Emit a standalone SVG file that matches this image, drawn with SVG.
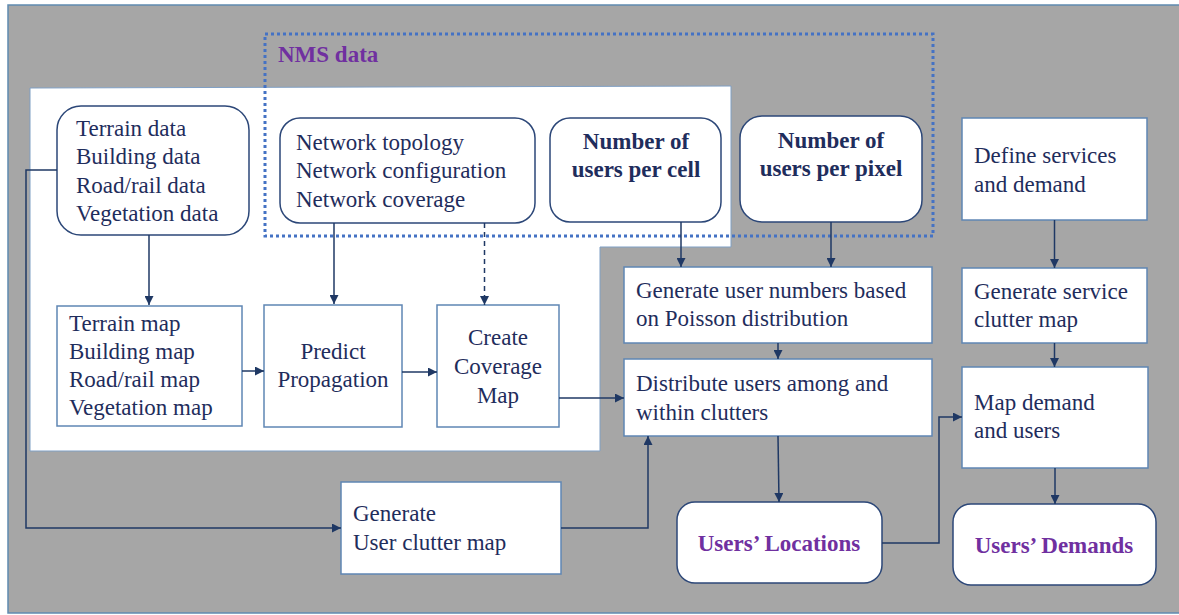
<svg xmlns="http://www.w3.org/2000/svg" width="1179" height="615" viewBox="0 0 1179 615">
<defs>
<marker id="ah" viewBox="0 0 10 10" refX="10" refY="5" markerWidth="9" markerHeight="9" markerUnits="userSpaceOnUse" orient="auto">
<path d="M0,0 L10,5 L0,10 z" fill="#1f3864"/>
</marker>
</defs>
<style>
text{font-size:23px;fill:#1f2d5c}
.b{font-weight:bold}
.p{fill:#7030a0;font-weight:bold}
.m{text-anchor:middle}
.rect{fill:#fff;stroke:#5f86b4;stroke-width:1.5}
.rnd{fill:#fff;stroke:#2c4778;stroke-width:1.5}
.c{fill:none;stroke:#1f3864;stroke-width:1.5}
.ca{fill:none;stroke:#1f3864;stroke-width:1.5;marker-end:url(#ah)}
</style>
<rect x="0" y="0" width="1179" height="615" fill="#ffffff"/>
<rect x="8" y="5" width="1180" height="608" fill="#a6a6a6" stroke="#5f8ab0" stroke-width="1.5"/>
<path d="M30,88 L731,86 L731,247 L600,247 L600,451 L30,451 Z" fill="#ffffff" stroke="#7f9fc4" stroke-width="1"/>
<rect id="nms" x="265" y="34" width="668" height="202" fill="none" stroke="#4472c4" stroke-width="3" stroke-dasharray="3 3"/>
<g font-family="'Liberation Serif', 'Times New Roman', Tinos, 'DejaVu Serif', serif">
<text x="278" y="62" class="p">NMS data</text>

<g id="terrain-data">
<rect x="57" y="106" width="192" height="129" rx="24" class="rnd"/>
<text x="76" y="136">Terrain  data</text>
<text x="76" y="164">Building  data</text>
<text x="76" y="193">Road/rail data</text>
<text x="76" y="221">Vegetation  data</text>
</g>
<g id="network">
<rect x="280" y="118" width="255" height="105" rx="20" class="rnd"/>
<text x="296" y="150">Network topology</text>
<text x="296" y="178">Network configuration</text>
<text x="296" y="207">Network coverage</text>
</g>
<g id="users-cell">
<rect x="550" y="118" width="171" height="104" rx="20" class="rnd"/>
<text x="636" y="149" class="b m">Number of</text>
<text x="636" y="177" class="b m">users per cell</text>
</g>
<g id="users-pixel">
<rect x="740" y="116" width="182" height="106" rx="22" class="rnd"/>
<text x="831" y="148" class="b m">Number of</text>
<text x="831" y="176" class="b m">users per pixel</text>
</g>
<g id="define-services">
<rect x="962" y="118" width="185" height="102" class="rect"/>
<text x="974" y="163">Define  services</text>
<text x="974" y="192">and demand</text>
</g>
<g id="terrain-map">
<rect x="57" y="306" width="185" height="120" class="rect"/>
<text x="69" y="331">Terrain map</text>
<text x="69" y="359">Building  map</text>
<text x="69" y="387">Road/rail map</text>
<text x="69" y="415">Vegetation  map</text>
</g>
<g id="predict">
<rect x="264" y="305" width="138" height="122" class="rect"/>
<text x="333" y="359" class="m">Predict</text>
<text x="333" y="387" class="m">Propagation</text>
</g>
<g id="coverage-map">
<rect x="437" y="305" width="122" height="122" class="rect"/>
<text x="498" y="345" class="m">Create</text>
<text x="498" y="374" class="m">Coverage</text>
<text x="498" y="403" class="m">Map</text>
</g>
<g id="user-clutter">
<rect x="341" y="482" width="220" height="92" class="rect"/>
<text x="353" y="521">Generate</text>
<text x="353" y="550">User clutter map</text>
</g>
<g id="generate-numbers">
<rect x="624" y="267" width="308" height="76" class="rect"/>
<text x="636" y="298">Generate  user numbers based</text>
<text x="636" y="326">on Poisson distribution</text>
</g>
<g id="distribute">
<rect x="624" y="359" width="308" height="77" class="rect"/>
<text x="636" y="391">Distribute  users among and</text>
<text x="636" y="420">within  clutters</text>
</g>
<g id="service-clutter">
<rect x="962" y="268" width="185" height="75" class="rect"/>
<text x="974" y="299">Generate  service</text>
<text x="974" y="327">clutter map</text>
</g>
<g id="map-demand">
<rect x="962" y="367" width="186" height="101" class="rect"/>
<text x="974" y="410">Map demand</text>
<text x="974" y="438">and users</text>
</g>
<g id="users-locations">
<rect x="677" y="502" width="205" height="81" rx="18" class="rnd"/>
<text x="779" y="551" class="p m">Users’ Locations</text>
</g>
<g id="users-demands">
<rect x="953" y="504" width="203" height="81" rx="18" class="rnd"/>
<text x="1054" y="553" class="p m">Users’ Demands</text>
</g>
</g>

<g id="connectors">
<path d="M149,235 V305" class="ca"/>
<path d="M334,223 V304" class="ca"/>
<path d="M484.5,223 V305" class="ca" stroke-dasharray="5 4"/>
<path d="M681,222 V267" class="ca"/>
<path d="M831,222 V267" class="ca"/>
<path d="M1054.5,220 V268" class="ca"/>
<path d="M242,371 H264" class="ca"/>
<path d="M402,372 H437" class="ca"/>
<path d="M559,398 H624" class="ca"/>
<path d="M778,343 V359" class="ca"/>
<path d="M778,436 L779,502" class="ca"/>
<path d="M561,528 H648 V436" class="ca"/>
<path d="M882,543 H939 V417 H962" class="ca"/>
<path d="M1054.5,343 V367" class="ca"/>
<path d="M1055,468 V504" class="ca"/>
<path d="M57,170 H26 V528 H341" class="ca"/>
</g>
</svg>
